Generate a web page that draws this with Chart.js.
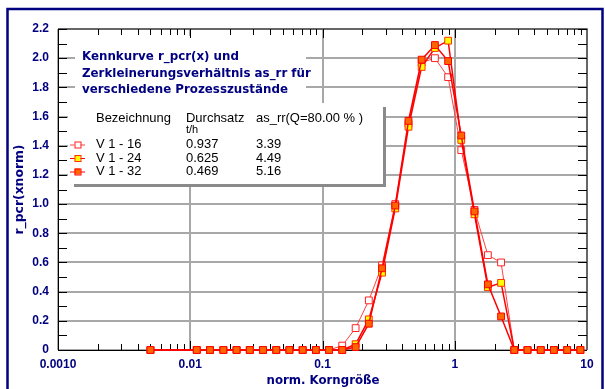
<!DOCTYPE html>
<html>
<head>
<meta charset="utf-8">
<script src="https://cdn.jsdelivr.net/npm/chart.js@4/dist/chart.umd.min.js"></script>
<style>
  html, body { margin: 0; padding: 0; background: #fff; }
  #wrap { width: 605px; height: 389px; position: relative; }
</style>
</head>
<body>
<div id="wrap"><canvas id="chart" width="605" height="389"></canvas></div>
<script>
// normalised particle size (x axis, log)
const sizes = [0.005, 0.0112, 0.0141, 0.0178, 0.0224, 0.0282, 0.0355, 0.0447, 0.0562, 0.0708,
               0.0891, 0.112, 0.141, 0.178, 0.224, 0.282, 0.355, 0.447, 0.562, 0.708,
               0.891, 1.12, 1.41, 1.78, 2.24, 2.82, 3.55, 4.47, 5.62, 7.08, 8.91];

// r_pcr(xnorm) per run
const rV116 = [0, 0, 0, 0, 0, 0, 0, 0, 0, 0, 0, 0,
               0.03, 0.15, 0.34, 0.58, 1.00, 1.55, 1.97, 2.00, 1.87, 1.37, 0.96, 0.65, 0.60,
               0, 0, 0, 0, 0, 0];
const rV124 = [0, 0, 0, 0, 0, 0, 0, 0, 0, 0, 0, 0, 0,
               0.04, 0.21, 0.53, 0.97, 1.53, 1.94, 2.07, 2.12, 1.44, 0.93, 0.43, 0.46,
               0, 0, 0, 0, 0, 0];
const rV132 = [0, 0, 0, 0, 0, 0, 0, 0, 0, 0, 0, 0, 0,
               0.02, 0.18, 0.56, 0.99, 1.57, 1.99, 2.09, 1.98, 1.47, 0.95, 0.45, 0.23,
               0, 0, 0, 0, 0, 0];

// legend table
const runNames = ['V 1 - 16', 'V 1 - 24', 'V 1 - 32'];
const throughput = ['0.937', '0.625', '0.469'];
const ratioRR = ['3.39', '4.49', '5.16'];

// axis ticks
const xDecades = [0.001, 0.01, 0.1, 1, 10];
const xTickLabels = ['0.0010', '0.01', '0.1', '1', '10'];
const yTicks = [0, 0.2, 0.4, 0.6, 0.8, 1.0, 1.2, 1.4, 1.6, 1.8, 2.0, 2.2];
const yTickLabels = ['0', '0.2', '0.4', '0.6', '0.8', '1.0', '1.2', '1.4', '1.6', '1.8', '2.0', '2.2'];

const titleLines = ['Kennkurve r_pcr(x) und', 'Zerkleinerungsverhältnis as_rr für', 'verschiedene Prozesszustände'];

const NAVY = '#000080';
const BOLD_FAM = '"DejaVu Sans", Verdana, sans-serif';
const SANS = '"Liberation Sans", Arial, sans-serif';
const styles = [
    { fill: '#ffffff', stroke: '#ff2020', line: '#ff4040', width: 1 },
    { fill: '#ffff00', stroke: '#ff3000', line: '#ff0000', width: 1.5 },
    { fill: '#ff6600', stroke: '#ff0000', line: '#ff0000', width: 1.5 }
];

function toPoints(vals) {
    return sizes.map((s, i) => ({ x: s, y: vals[i] }));
}

function makeSet(label, vals, st, order) {
    return {
        label: label,
        data: toPoints(vals),
        borderColor: st.line,
        borderWidth: st.width,
        pointStyle: 'rect',
        pointRadius: 4.8,
        pointBorderWidth: 1,
        pointBackgroundColor: st.fill,
        pointBorderColor: st.stroke,
        tension: 0,
        clip: false,
        order: order
    };
}

function drawMarker(ctx, cx, cy, st) {
    ctx.fillStyle = st.fill;
    ctx.fillRect(cx - 3, cy - 3, 6, 6);
    ctx.strokeStyle = st.stroke;
    ctx.lineWidth = 1;
    ctx.strokeRect(cx - 3 + 0.5, cy - 3 + 0.5, 6, 6);
}

// pick a font size so that text spans roughly the width seen in the reference
function fitFont(ctx, text, weight, family, target) {
    ctx.font = weight + ' 12px ' + family;
    const w = ctx.measureText(text).width;
    const size = Math.max(9, Math.min(14, 12 * target / w));
    return weight + ' ' + size.toFixed(2) + 'px ' + family;
}

// frame, inner ticks, title and legend boxes (drawn under the curves)
const decor = {
    id: 'decor',
    beforeDatasetsDraw(chart) {
        const { ctx, chartArea: a, scales: { x, y } } = chart;
        ctx.save();

        // outer navy frame
        ctx.strokeStyle = NAVY;
        ctx.lineWidth = 2.5;
        ctx.strokeRect(7.5, 9, 595, 390);

        // title box
        ctx.fillStyle = '#fff';
        ctx.fillRect(75, 36, 231, 67);
        ctx.fillStyle = NAVY;
        ctx.font = fitFont(ctx, titleLines[1], 'bold', BOLD_FAM, 229);
        ctx.textBaseline = 'middle';
        ctx.textAlign = 'left';
        titleLines.forEach((t, i) => ctx.fillText(t, 82, 57 + i * 16.7));

        // legend box with shadow
        ctx.fillStyle = '#8a8a8a';
        ctx.fillRect(74, 107, 312, 80);
        ctx.fillStyle = '#fff';
        ctx.fillRect(68, 103, 315, 81);

        const legFont = fitFont(ctx, 'Bezeichnung', '', SANS, 75);
        ctx.fillStyle = '#000';
        ctx.font = legFont;
        ctx.fillText('Bezeichnung', 96, 118);
        ctx.fillText('Durchsatz', 186, 118);
        ctx.fillText('as_rr(Q=80.00 % )', 256, 118);
        ctx.font = '11px ' + SANS;
        ctx.fillText('t/h', 186, 130);
        ctx.font = legFont;
        runNames.forEach((n, i) => {
            const ry = 144.5 + i * 13.5;
            ctx.strokeStyle = styles[i].line;
            ctx.lineWidth = 1;
            ctx.beginPath();
            ctx.moveTo(70, ry + 0.5);
            ctx.lineTo(85, ry + 0.5);
            ctx.stroke();
            drawMarker(ctx, 77.5, ry, styles[i]);
            ctx.fillStyle = '#000';
            ctx.fillText(n, 96, ry);
            ctx.fillText(throughput[i], 186, ry);
            ctx.fillText(ratioRR[i], 256, ry);
        });

        // plot frame
        ctx.lineWidth = 1.5;
        ctx.strokeStyle = '#505050';
        ctx.beginPath();
        ctx.moveTo(a.left, a.top);
        ctx.lineTo(a.right, a.top);
        ctx.lineTo(a.right, a.bottom);
        ctx.stroke();
        ctx.strokeStyle = '#000';
        ctx.lineWidth = 1;
        ctx.beginPath();
        ctx.moveTo(a.left + 0.5, a.top);
        ctx.lineTo(a.left + 0.5, a.bottom + 0.5);
        ctx.lineTo(a.right, a.bottom + 0.5);
        ctx.stroke();

        // log ticks on top and bottom edges
        ctx.beginPath();
        for (let d = 0.001; d < 10; d *= 10) {
            for (let m = 1; m <= 9; m++) {
                const px = Math.round(x.getPixelForValue(d * m)) + 0.5;
                const len = m === 1 ? 9 : 6;
                ctx.moveTo(px, a.bottom);
                ctx.lineTo(px, a.bottom - len);
                ctx.moveTo(px, a.top);
                ctx.lineTo(px, a.top + len);
            }
        }
        // y ticks on left and right edges
        for (let i = 0; i <= 22; i++) {
            const py = Math.round(y.getPixelForValue(i / 10)) + 0.5;
            ctx.moveTo(a.left, py);
            ctx.lineTo(a.left + 9, py);
            ctx.moveTo(a.right, py);
            ctx.lineTo(a.right - 9, py);
        }
        ctx.stroke();

        // axis titles
        ctx.fillStyle = NAVY;
        ctx.textAlign = 'center';
        ctx.font = fitFont(ctx, 'norm. Korngröße', 'bold', BOLD_FAM, 113);
        ctx.fillText('norm. Korngröße', 323, 381);
        ctx.font = fitFont(ctx, 'r_pcr(xnorm)', 'bold', BOLD_FAM, 90);
        ctx.translate(20, (a.top + a.bottom) / 2);
        ctx.rotate(-Math.PI / 2);
        ctx.fillText('r_pcr(xnorm)', 0, 0);
        ctx.restore();
    }
};

const ctx = document.getElementById('chart').getContext('2d');
new Chart(ctx, {
    type: 'line',
    data: {
        datasets: [
            makeSet(runNames[0], rV116, styles[0], 2),
            makeSet(runNames[1], rV124, styles[1], 1),
            makeSet(runNames[2], rV132, styles[2], 0)
        ]
    },
    options: {
        responsive: false,
        animation: false,
        layout: { padding: { top: 29, right: 18, left: 0, bottom: 0 } },
        plugins: { legend: { display: false }, tooltip: { enabled: false } },
        scales: {
            x: {
                type: 'logarithmic',
                min: 0.001,
                max: 10,
                afterBuildTicks: s => { s.ticks = xDecades.map(v => ({ value: v })); },
                afterFit: s => { s.height = 39; },
                ticks: {
                    autoSkip: false,
                    maxRotation: 0,
                    padding: 7,
                    color: NAVY,
                    font: { family: '"Liberation Sans", Arial, sans-serif', size: 12, weight: 'bold' },
                    callback: (v, i) => xTickLabels[i]
                },
                grid: { color: '#a8a8a8', lineWidth: 2, drawTicks: false },
                border: { display: false }
            },
            y: {
                min: 0,
                max: 2.2,
                afterBuildTicks: s => { s.ticks = yTicks.map(v => ({ value: v })); },
                afterFit: s => { s.width = 58; },
                ticks: {
                    padding: 9,
                    color: NAVY,
                    font: { family: '"Liberation Sans", Arial, sans-serif', size: 12, weight: 'bold' },
                    callback: (v, i) => yTickLabels[i]
                },
                grid: { color: '#a8a8a8', lineWidth: 2, drawTicks: false },
                border: { display: false }
            }
        }
    },
    plugins: [decor]
});
</script>
</body>
</html>
